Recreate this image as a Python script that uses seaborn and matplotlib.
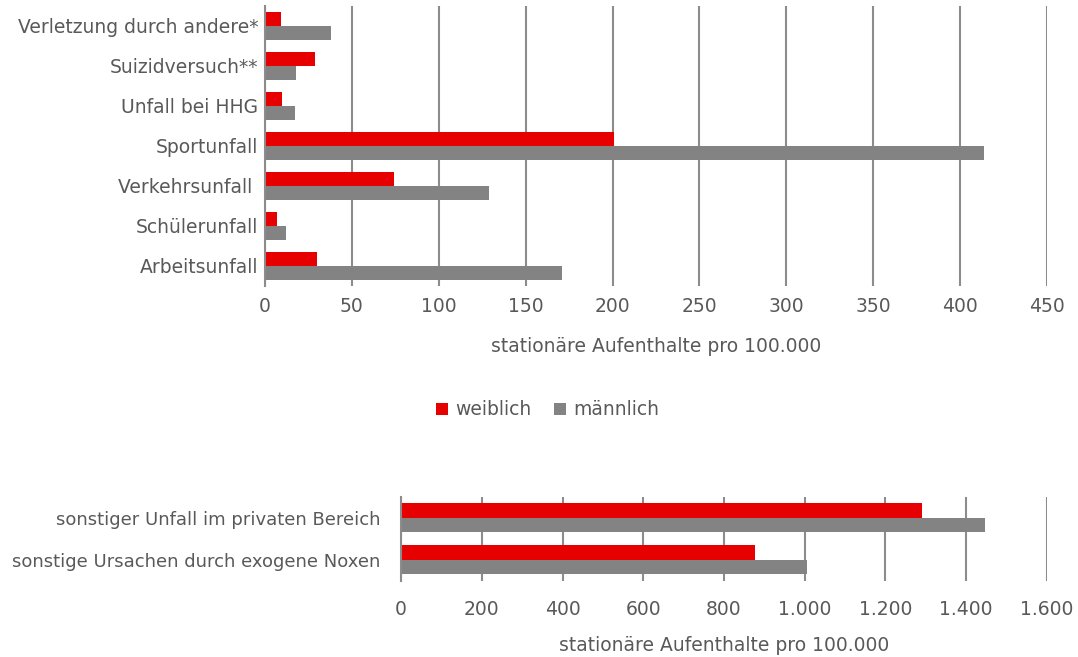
import matplotlib.pyplot as plt
import matplotlib.ticker as mticker
import pandas as pd
import seaborn as sns

# Werte (stationäre Aufenthalte pro 100.000)
kategorien_oben = ['Verletzung durch andere*', 'Suizidversuch**', 'Unfall bei HHG',
                   'Sportunfall', 'Verkehrsunfall ', 'Schülerunfall', 'Arbeitsunfall']
weiblich_oben = [9, 29, 10, 201, 74, 7, 30]
maennlich_oben = [38, 18, 17, 414, 129, 12, 171]

kategorien_unten = ['sonstiger Unfall im privaten Bereich',
                    'sonstige Ursachen durch exogene Noxen']
weiblich_unten = [1290, 878]
maennlich_unten = [1446, 1005]

geschlechter = ['weiblich', 'männlich']
farben = {'weiblich': '#e60000', 'männlich': '#838383'}
textfarbe = '#595959'
fs = 13.5


def long_df(kats, w, m):
    return pd.DataFrame({
        'Kategorie': kats * 2,
        'Geschlecht': ['weiblich'] * len(kats) + ['männlich'] * len(kats),
        'Wert': w + m,
    })


df_oben = long_df(kategorien_oben, weiblich_oben, maennlich_oben)
df_unten = long_df(kategorien_unten, weiblich_unten, maennlich_unten)

sns.set_style("white")
plt.rcParams['font.family'] = 'sans-serif'
plt.rcParams['font.sans-serif'] = ['DejaVu Sans']

fig = plt.figure(figsize=(10.78, 6.57), dpi=100)
ax1 = fig.add_axes([0.2458, 0.565, 0.7254, 0.426])
ax2 = fig.add_axes([0.372, 0.116, 0.5992, 0.128])


def style_axis(ax, xmax, step):
    ax.set_xlim(0, xmax)
    ax.set_xticks(range(0, xmax + 1, step))
    ax.grid(axis='x', color='#8c8c8c', linewidth=1.5)
    ax.set_axisbelow(True)
    for s in ['top', 'right', 'bottom']:
        ax.spines[s].set_visible(False)
    ax.spines['left'].set_color('#8c8c8c')
    ax.spines['left'].set_linewidth(1.5)
    ax.tick_params(length=0, labelsize=fs, labelcolor=textfarbe)
    ax.tick_params(axis='x', pad=8)
    ax.set_ylabel('')
    ax.set_xlabel('stationäre Aufenthalte pro 100.000', fontsize=fs,
                  color=textfarbe, labelpad=15)


sns.barplot(data=df_oben, y='Kategorie', x='Wert', hue='Geschlecht',
            hue_order=geschlechter, palette=farben, orient='h', saturation=1,
            width=0.71, linewidth=0, ax=ax1, legend=True)
style_axis(ax1, 450, 50)
ax1.tick_params(axis='y', pad=5)

sns.barplot(data=df_unten, y='Kategorie', x='Wert', hue='Geschlecht',
            hue_order=geschlechter, palette=farben, orient='h', saturation=1,
            width=0.68, linewidth=0, ax=ax2, legend=False)
style_axis(ax2, 1600, 200)
ax2.xaxis.set_major_formatter(
    mticker.FuncFormatter(lambda v, p: f'{int(v):,}'.replace(',', '.')))
ax2.tick_params(axis='x', pad=14)
ax2.tick_params(axis='y', pad=15, labelsize=13)
ax2.xaxis.labelpad = 12

handles, labels = ax1.get_legend_handles_labels()
ax1.get_legend().remove()
fig.legend(handles, labels, loc='center', bbox_to_anchor=(0.508, 0.376),
           ncol=2, frameon=False, fontsize=fs, labelcolor=textfarbe,
           handlelength=0.65, handleheight=0.65, handletextpad=0.4,
           columnspacing=1.2)

fig.savefig('out.png', dpi=100)
